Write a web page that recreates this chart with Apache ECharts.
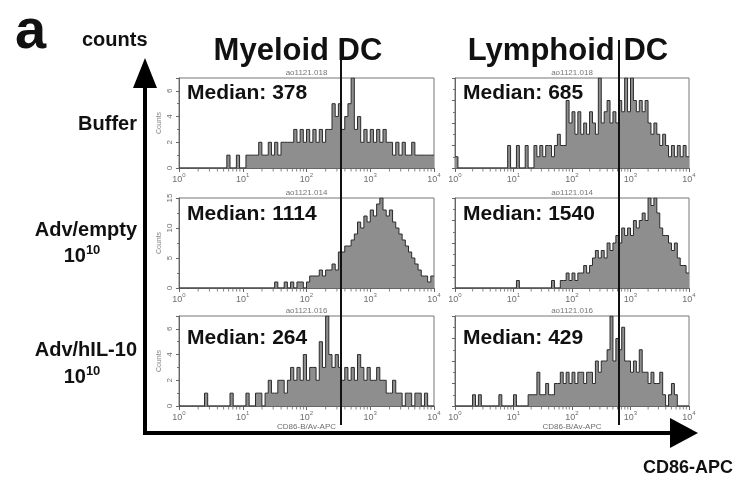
<!DOCTYPE html>
<html>
<head>
<meta charset="utf-8">
<script src="https://cdn.jsdelivr.net/npm/echarts@6/dist/echarts.min.js"></script>
<style>
html, body { margin: 0; padding: 0; background: #fff; }
#chart { width: 742px; height: 480px; }
</style>
</head>
<body>
<div id="chart"></div>
<script>
// histogram bins: 80 bins over 4 decades, 0.05 decade each, counts per bin
var binWidth = 0.05;

var myeloidBuffer = [
  0,0,0,0,0,0,0,0,0,0,
  0,0,0,0,0,1,0,0,1,0,
  0,1,1,1,1,2,1,1,2,1,
  2,1,2,2,2,2,3,2,3,2,
  3,2,3,2,3,2,3,3,5,4,
  5,3,4,5,7,3,4,2,3,2,
  3,2,3,2,3,2,2,1,2,1,
  2,1,1,2,1,1,1,1,1,1
];
var lymphoidBuffer = [
  1,0,0,0,0,0,0,0,0,0,
  0,0,0,0,0,0,0,0,2,0,
  0,2,0,0,2,0,0,2,1,2,
  1,2,2,1,2,3,2,2,6,4,
  5,3,5,3,4,3,5,4,3,8,
  4,5,6,4,5,4,6,5,8,5,
  8,6,5,6,5,6,4,3,4,3,
  2,3,2,1,2,1,2,1,2,1
];
var myeloidEmpty = [
  0,0,0,0,0,0,0,0,0,0,
  0,0,0,0,0,0,0,0,0,0,
  0,0,0,0,0,0,0,0,0,0,
  1,0,0,1,0,1,0,1,1,0,
  1,2,2,2,3,2,3,3,4,3,
  6,6,7,7,8,9,11,10,12,11,
  13,12,14,15,13,12,13,11,10,9,
  8,7,6,5,4,3,2,2,1,2
];
var lymphoidEmpty = [
  0,0,0,0,0,0,0,0,0,0,
  0,0,0,0,0,0,0,0,0,0,
  0,1,0,0,0,0,0,0,0,0,
  0,0,0,1,0,0,1,1,2,1,
  2,1,2,2,3,2,3,4,5,4,
  5,4,6,5,6,7,6,8,7,8,
  7,9,8,9,10,9,12,11,12,10,
  8,7,7,6,5,6,4,3,3,2
];
var myeloidIL10 = [
  0,0,0,0,0,0,0,0,1,0,
  0,0,0,0,0,0,1,0,0,0,
  0,1,0,0,1,1,0,1,2,1,
  1,2,2,1,2,3,2,3,2,4,
  2,3,3,2,5,3,7,4,3,4,
  3,2,3,2,3,2,4,3,2,3,
  2,2,3,2,2,1,1,2,1,1,
  0,1,1,0,1,1,0,1,0,0
];
var lymphoidIL10 = [
  0,0,0,0,0,0,1,0,1,0,
  0,0,0,0,0,1,0,0,0,0,
  1,0,0,0,0,1,1,1,3,1,
  1,2,1,1,2,2,3,2,3,2,
  3,2,3,3,2,3,3,2,4,3,
  4,4,5,8,4,6,5,7,4,4,
  3,4,3,5,3,3,2,3,2,2,
  3,1,0,1,2,1,0,0,0,0
];

var panelCounts = [myeloidBuffer, lymphoidBuffer, myeloidEmpty, lymphoidEmpty, myeloidIL10, lymphoidIL10];
var medians = [378, 685, 1114, 1540, 264, 429];
var fileNames = ['ao1121.018', 'ao1121.018', 'ao1121.014', 'ao1121.014', 'ao1121.016', 'ao1121.016'];
var yMax = [7, 8, 15, 12, 7, 8];
var yInterval = [2, 2, 5, 3, 2, 2];
var columnTitles = ['Myeloid DC', 'Lymphoid DC'];
var rowTitles = ['Buffer', 'Adv/empty', 'Adv/hIL-10'];
var rowDoses = ['', '10', '10'];
var gateValues = [348, 636];
var decadeTicks = [1, 10, 100, 1000, 10000];
var xAxisName = 'CD86-B/Av-APC';

// layout
var colLeft = [179, 455];
var colWidth = [255, 234];
var rowTop = [78, 198, 316];
var panelH = 90;
var medianY = [93, 214, 338];
var rowLabelY = [124, 230, 350];
var doseY = [0, 255, 376];

var FONT = '"Liberation Sans", Arial, sans-serif';
var GREY = '#6e6e6e';

function powerLabel(v) {
  var e = Math.round(Math.log(v) / Math.LN10);
  return '{b|10}{s|' + e + '}';
}

var minorTicks = [];
decadeTicks.slice(0, 4).forEach(function (d) {
  for (var m = 2; m <= 9; m++) minorTicks.push([d * m, 0]);
});

var grids = [], xAxes = [], yAxes = [], series = [], graphics = [];

panelCounts.forEach(function (counts, p) {
  var row = Math.floor(p / 2), col = p % 2;
  grids.push({
    left: colLeft[col], top: rowTop[row], width: colWidth[col], height: panelH,
    show: true, borderColor: '#777', borderWidth: 1, backgroundColor: 'transparent'
  });
  xAxes.push({
    gridIndex: p, type: 'log', logBase: 10, min: 1, max: 10000,
    axisLine: { show: true, lineStyle: { color: '#666', width: 1 } },
    axisTick: { show: true, length: 4, lineStyle: { color: '#666' } },
    splitLine: { show: false },
    axisLabel: {
      formatter: powerLabel, margin: 4,
      rich: {
        b: { fontSize: 9, color: GREY, fontFamily: FONT, lineHeight: 12, verticalAlign: 'bottom' },
        s: { fontSize: 6, color: GREY, fontFamily: FONT, lineHeight: 6, verticalAlign: 'top' }
      }
    },
    name: row === 2 ? xAxisName : '',
    nameLocation: 'middle', nameGap: 16,
    nameTextStyle: { fontSize: 8, color: GREY, fontFamily: FONT }
  });
  yAxes.push({
    gridIndex: p, type: 'value', min: 0, max: yMax[p], interval: yInterval[p],
    axisLine: { show: true, lineStyle: { color: '#666' } },
    axisTick: { show: true, length: 3, lineStyle: { color: '#666' } },
    minorTick: { show: true, splitNumber: 2, length: 2, lineStyle: { color: '#777' } },
    splitLine: { show: false },
    axisLabel: {
      show: col === 0, rotate: 90, fontSize: 8, color: GREY, fontFamily: FONT, margin: 5,
      showMaxLabel: yMax[p] % yInterval[p] === 0
    },
    name: col === 0 ? 'Counts' : '',
    nameLocation: 'middle', nameGap: 16, nameRotate: 90,
    nameTextStyle: { fontSize: 7, color: '#888', fontFamily: FONT }
  });
  var data = counts.map(function (c, i) { return [Math.pow(10, i * binWidth), c]; });
  data.push([10000, counts[counts.length - 1]]);
  series.push({
    type: 'line', xAxisIndex: p, yAxisIndex: p, step: 'end', data: data,
    showSymbol: false, silent: true,
    lineStyle: { color: '#2b2b2b', width: 1 },
    areaStyle: { color: '#8e8e8e', opacity: 1 }
  });
  series.push({
    type: 'scatter', xAxisIndex: p, yAxisIndex: p, data: minorTicks,
    symbol: 'rect', symbolSize: [1, 3], symbolOffset: [0, 2], silent: true,
    itemStyle: { color: '#666' }, z: 5
  });
  graphics.push({
    type: 'text', x: colLeft[col] + colWidth[col] / 2, y: rowTop[row] - 5,
    style: { text: fileNames[p], font: '8px ' + FONT, fill: '#777', align: 'center', verticalAlign: 'middle' }
  });
  graphics.push({
    type: 'text', x: colLeft[col] + 8, y: medianY[row], z: 20,
    style: { text: 'Median: ' + medians[p], font: 'bold 21px ' + FONT, fill: '#111', align: 'left', verticalAlign: 'middle' }
  });
});

// full-height overlay grids carrying the gate line through each column
gateValues.forEach(function (g, col) {
  var gi = grids.length;
  grids.push({ left: colLeft[col], top: 40, width: colWidth[col], height: 385 });
  xAxes.push({ gridIndex: gi, type: 'log', logBase: 10, min: 1, max: 10000, show: false });
  yAxes.push({ gridIndex: gi, type: 'value', min: 0, max: 1, show: false });
  series.push({
    type: 'line', xAxisIndex: gi, yAxisIndex: gi, data: [[1, 0]], showSymbol: false,
    lineStyle: { opacity: 0 }, silent: true, z: 10,
    markLine: {
      symbol: 'none', silent: true, label: { show: false }, animation: false,
      lineStyle: { color: '#111', width: 2, type: 'solid' },
      data: [{ xAxis: g }]
    }
  });
});

// headers and row labels
columnTitles.forEach(function (t, col) {
  graphics.push({
    type: 'text', x: [298, 568][col], y: 51,
    style: { text: t, font: 'bold 31px ' + FONT, fill: '#111', align: 'center', verticalAlign: 'middle' }
  });
});
rowTitles.forEach(function (t, r) {
  graphics.push({
    type: 'text', x: 137, y: rowLabelY[r],
    style: { text: t, font: 'bold 20px ' + FONT, fill: '#111', align: 'right', verticalAlign: 'middle' }
  });
  if (rowDoses[r]) {
    graphics.push({
      type: 'text', x: 82, y: doseY[r],
      style: {
        text: '{b|10}{s|' + rowDoses[r] + '}', align: 'center', verticalAlign: 'middle',
        rich: {
          b: { font: 'bold 20px ' + FONT, fill: '#111', lineHeight: 22, verticalAlign: 'bottom' },
          s: { font: 'bold 13px ' + FONT, fill: '#111', lineHeight: 13, verticalAlign: 'top' }
        }
      }
    });
  }
});
graphics.push(
  { type: 'text', x: 15, y: 33, style: { text: 'a', font: 'bold 56px ' + FONT, fill: '#111', align: 'left', verticalAlign: 'middle' } },
  { type: 'text', x: 82, y: 40, style: { text: 'counts', font: 'bold 20px ' + FONT, fill: '#111', align: 'left', verticalAlign: 'middle' } },
  { type: 'text', x: 733, y: 468, style: { text: 'CD86-APC', font: 'bold 18px ' + FONT, fill: '#111', align: 'right', verticalAlign: 'middle' } },
  // big axis arrows
  { type: 'line', shape: { x1: 145, y1: 435, x2: 145, y2: 84 }, style: { stroke: '#000', lineWidth: 4 } },
  { type: 'polygon', shape: { points: [[145, 58], [133, 88], [157, 88]] }, style: { fill: '#000' } },
  { type: 'line', shape: { x1: 143, y1: 433, x2: 674, y2: 433 }, style: { stroke: '#000', lineWidth: 4 } },
  { type: 'polygon', shape: { points: [[698, 433], [670, 418], [670, 448]] }, style: { fill: '#000' } }
);

var chart = echarts.init(document.getElementById('chart'));
chart.setOption({
  animation: false,
  backgroundColor: '#fff',
  grid: grids,
  xAxis: xAxes,
  yAxis: yAxes,
  series: series,
  graphic: graphics
});
</script>
</body>
</html>
